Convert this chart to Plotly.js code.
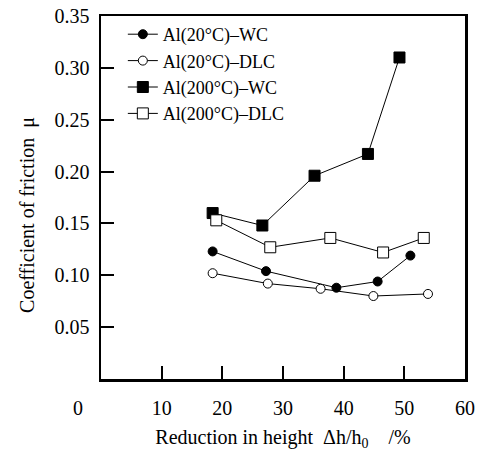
<!DOCTYPE html>
<html>
<head>
<meta charset="utf-8">
<script src="https://cdn.plot.ly/plotly-3.0.1.min.js"></script>
<style>html,body{margin:0;padding:0;background:#fff;}#chart{width:483px;height:453px;}</style>
</head>
<body>
<div id="chart"></div>
<script>
// Data
const seriesNames = ["Al(20°C)–WC", "Al(20°C)–DLC", "Al(200°C)–WC", "Al(200°C)–DLC"];

const al20wcX = [18.4, 27.2, 38.8, 45.6, 51.0];
const al20wcY = [0.123, 0.104, 0.088, 0.094, 0.119];

const al20dlcX = [18.4, 27.5, 36.2, 44.9, 53.9];
const al20dlcY = [0.102, 0.092, 0.087, 0.080, 0.082];

const al200wcX = [18.4, 26.6, 35.2, 44.0, 49.2];
const al200wcY = [0.160, 0.148, 0.196, 0.217, 0.310];

const al200dlcX = [19.0, 27.9, 37.8, 46.5, 53.2];
const al200dlcY = [0.153, 0.127, 0.136, 0.122, 0.136];

const xTicks = [10, 20, 30, 40, 50, 60];
const yTicks = [0.05, 0.10, 0.15, 0.20, 0.25, 0.30, 0.35];

const FONT = "Liberation Serif";

function tr(name, x, y, symbol, filled, size) {
  return {
    type: "scatter", mode: "lines+markers", name: name, x: x, y: y,
    line: {color: "#000", width: 1},
    marker: {symbol: symbol, size: size, color: filled ? "#000" : "#fff",
             line: {color: "#000", width: 1}}
  };
}

const data = [
  tr(seriesNames[0], al20wcX, al20wcY, "circle", true, 9),
  tr(seriesNames[1], al20dlcX, al20dlcY, "circle", false, 9),
  tr(seriesNames[2], al200wcX, al200wcY, "square", true, 11),
  tr(seriesNames[3], al200dlcX, al200dlcY, "square", false, 11)
];

const layout = {
  width: 483, height: 453,
  margin: {l: 101, r: 18, t: 16, b: 74},
  paper_bgcolor: "#fff", plot_bgcolor: "#fff",
  font: {family: FONT, color: "#000", size: 20},
  showlegend: true,
  legend: {x: 0.06, y: 1.0, xanchor: "left", yanchor: "top",
           bgcolor: "rgba(0,0,0,0)", font: {size: 18, family: FONT, color: "#000"},
           itemwidth: 30, tracegroupgap: 0},
  xaxis: {
    range: [0, 60], tickvals: xTicks, ticks: "inside", ticklen: 13, tickwidth: 2,
    tickcolor: "#000", showgrid: false, zeroline: false,
    showline: true, linecolor: "#000", linewidth: 2.5, mirror: true,
    tickfont: {size: 20, family: FONT, color: "#000"}, ticklabelstandoff: 9,
    title: {text: "Reduction in height&nbsp;&nbsp;Δh/h<sub>0</sub>&nbsp;&nbsp;&nbsp;&nbsp;/%",
            font: {size: 20, family: FONT, color: "#000"}, standoff: 13}
  },
  yaxis: {
    range: [0, 0.35], tickvals: yTicks, tickformat: ".2f", ticks: "inside", ticklen: 13, tickwidth: 2,
    tickcolor: "#000", showgrid: false, zeroline: false,
    showline: true, linecolor: "#000", linewidth: 2.5, mirror: true,
    tickfont: {size: 20, family: FONT, color: "#000"}, ticklabelstandoff: 5,
    title: {text: "Coefficient of friction&nbsp;&nbsp;μ&nbsp;&nbsp;&nbsp;&nbsp;&nbsp;&nbsp;&nbsp;", font: {size: 20, family: FONT, color: "#000"}, standoff: 15}
  },
  annotations: [{
    text: "0", xref: "paper", yref: "paper", x: -0.063, y: -0.08,
    xanchor: "center", yanchor: "middle", showarrow: false,
    font: {size: 20, family: FONT, color: "#000"}
  }]
};

Plotly.newPlot("chart", data, layout, {displayModeBar: false, staticPlot: true});
</script>
</body>
</html>
